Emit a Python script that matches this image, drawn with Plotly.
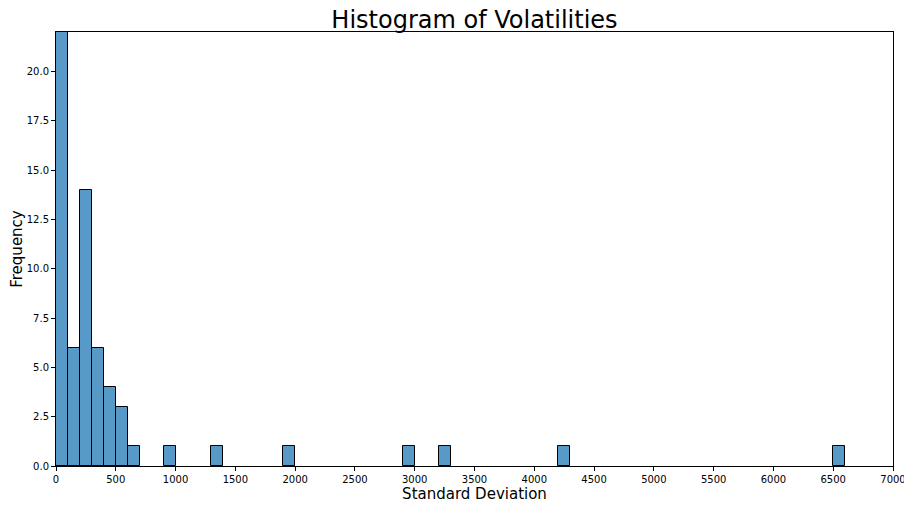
import plotly.graph_objects as go

# histogram bins (width 100) and their counts
bin_left = [0, 100, 200, 300, 400, 500, 600, 900, 1300, 1900, 2900, 3200, 4200, 6500]
counts = [30, 6, 14, 6, 4, 3, 1, 1, 1, 1, 1, 1, 1, 1]
bin_width = 100
x_ticks = list(range(0, 7001, 500))
y_ticks = [0, 2.5, 5, 7.5, 10, 12.5, 15, 17.5, 20]

fig = go.Figure()
fig.add_trace(go.Bar(
    x=[b + bin_width / 2 for b in bin_left],
    y=counts,
    width=bin_width,
    marker=dict(color='rgba(31,119,180,0.75)', line=dict(color='black', width=1)),
))

axis_style = dict(showline=True, linecolor='black', linewidth=1, mirror=True,
                  ticks='outside', ticklen=4, tickcolor='black', showgrid=False,
                  zeroline=False, automargin=False,
                  tickfont=dict(size=10, color='black'))

# the page body adds an 8px offset, so the figure is a bit smaller than the window
fig.update_layout(
    width=904, height=502,
    margin=dict(l=48, r=19, t=24, b=44),
    paper_bgcolor='white', plot_bgcolor='white',
    font=dict(family='DejaVu Sans', color='black'),
    title=dict(text='Histogram of Volatilities', font=dict(size=24),
               x=0.5, xanchor='center', xref='paper',
               y=1 - 12 / 502, yanchor='middle'),
    showlegend=False, bargap=0,
)
fig.update_xaxes(range=[0, 7000], tickvals=x_ticks,
                 title=dict(text='Standard Deviation', font=dict(size=15), standoff=4),
                 **axis_style)
fig.update_yaxes(range=[0, 22], tickvals=y_ticks,
                 ticktext=['%.1f' % v for v in y_ticks],
                 title=dict(text='Frequency', font=dict(size=15), standoff=2),
                 **axis_style)

fig.write_html("out.html")
